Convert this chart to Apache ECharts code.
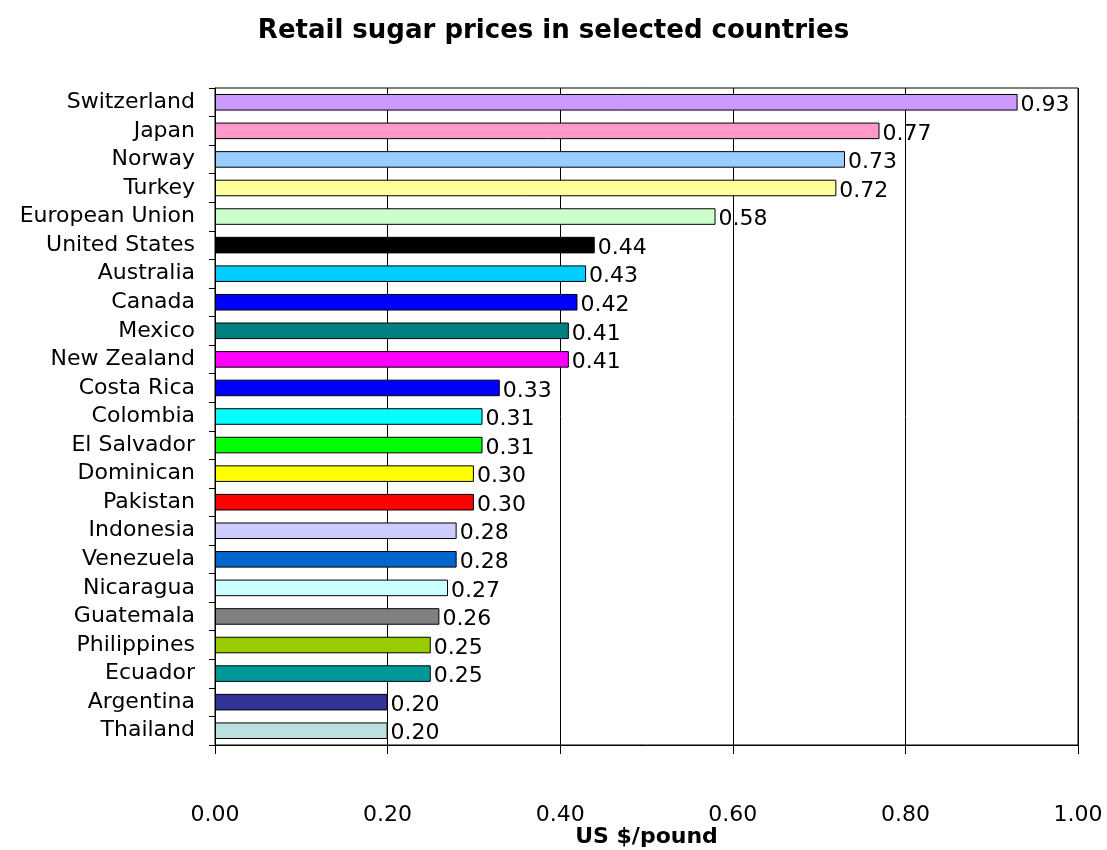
<!DOCTYPE html>
<html>
<head>
<meta charset="utf-8">
<script src="https://cdn.jsdelivr.net/npm/echarts@6/dist/echarts.min.js"></script>
<style>html,body{margin:0;padding:0;background:#fff;}#c{width:1107px;height:850px;}</style>
</head>
<body>
<div id="c"></div>
<script>
const countries = ["Switzerland","Japan","Norway","Turkey","European Union","United States","Australia","Canada","Mexico","New Zealand","Costa Rica","Colombia","El Salvador","Dominican","Pakistan","Indonesia","Venezuela","Nicaragua","Guatemala","Philippines","Ecuador","Argentina","Thailand"];
const prices = [0.93,0.77,0.73,0.72,0.58,0.44,0.43,0.42,0.41,0.41,0.33,0.31,0.31,0.30,0.30,0.28,0.28,0.27,0.26,0.25,0.25,0.20,0.20];
const barColors = ["#CC99FF","#FF99CC","#99CCFF","#FFFF99","#CCFFCC","#000000","#00CCFF","#0000FF","#008080","#FF00FF","#0000FF","#00FFFF","#00FF00","#FFFF00","#FF0000","#CCCCFF","#0066CC","#CCFFFF","#808080","#99CC00","#009999","#333399","#BBE0E0"];
const FONT = "'DejaVu Sans', sans-serif";
const chart = echarts.init(document.getElementById('c'));
chart.setOption({
  animation:false,
  backgroundColor:'#fff',
  title:{text:'Retail sugar prices in selected countries',left:'center',top:13,
    textStyle:{fontFamily:FONT,fontSize:26,fontWeight:'bold',color:'#000'}},
  grid:{left:215,right:29,top:88,bottom:105,show:true,borderColor:'#000',borderWidth:1,containLabel:false,outerBoundsMode:'none'},
  xAxis:{type:'value',min:0,max:1,interval:0.2,
    name:'US $/pound',nameLocation:'middle',nameGap:81,nameMoveOverlap:false,
    nameTextStyle:{fontFamily:FONT,fontSize:22,fontWeight:'bold',color:'#000'},
    axisLine:{show:true,lineStyle:{color:'#000',width:1}},
    axisTick:{show:true,length:9,lineStyle:{color:'#000'}},
    axisLabel:{margin:59,fontFamily:FONT,fontSize:22,color:'#000',formatter:v=>v.toFixed(2)},
    splitLine:{show:true,lineStyle:{color:'#000',width:1}}},
  yAxis:{type:'category',data:countries,inverse:true,
    axisLine:{show:true,lineStyle:{color:'#000',width:1}},
    axisTick:{show:true,length:6,lineStyle:{color:'#000'}},
    axisLabel:{margin:20,interval:0,fontFamily:FONT,fontSize:22,color:'#000'}},
  series:[{type:'bar',data:prices.map((v,i)=>({value:v,itemStyle:{color:barColors[i]}})),
    barWidth:'58%',
    itemStyle:{borderColor:'#000',borderWidth:1},
    label:{show:true,position:'right',distance:3,offset:[0,3],fontFamily:FONT,fontSize:22,color:'#000',
      formatter:p=>p.value.toFixed(2)}}]
});
</script>
</body>
</html>
